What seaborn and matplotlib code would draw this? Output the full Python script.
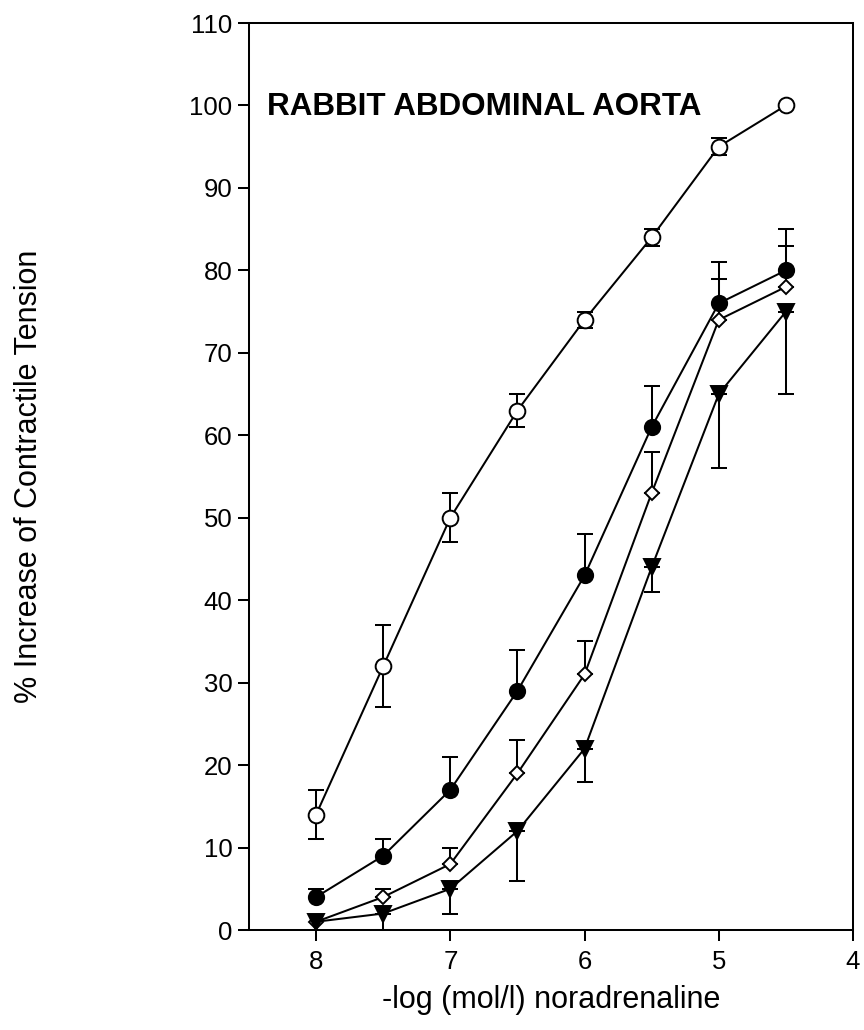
import matplotlib
matplotlib.use("Agg")
import matplotlib.pyplot as plt
import seaborn as sns
import numpy as np

# Concentrations (-log mol/l noradrenaline)
conc = [8.0, 7.5, 7.0, 6.5, 6.0, 5.5, 5.0, 4.5]

# Mean % increase of contractile tension for each group
open_circle = [14, 32, 50, 63, 74, 84, 95, 100]
open_circle_err = [3, 5, 3, 2, 1, 1, 1, 0]

filled_circle = [4, 9, 17, 29, 43, 61, 76, 80]
filled_circle_err = [1, 2, 4, 5, 5, 5, 5, 5]

open_diamond = [1, 4, 8, 19, 31, 53, 74, 78]
open_diamond_err = [0, 1, 2, 4, 4, 5, 5, 5]

filled_triangle = [1, 2, 5, 12, 22, 44, 65, 75]
filled_triangle_err = [0, 2, 3, 6, 4, 3, 9, 10]

x_ticks = [8, 7, 6, 5, 4]
y_ticks = list(range(0, 111, 10))

sns.set_theme(style="ticks")
plt.rcParams["font.family"] = ["Liberation Sans", "DejaVu Sans"]
plt.rcParams["text.color"] = "black"
plt.rcParams["axes.labelcolor"] = "black"
plt.rcParams["xtick.color"] = "black"
plt.rcParams["ytick.color"] = "black"

fig = plt.figure(figsize=(8.64, 10.30), dpi=100)
ax = fig.add_axes([249 / 864, 100 / 1030, 604 / 864, 907 / 1030])

lw = 1.45
cap = 12

# Error bars: both directions, upper only, or lower only
err_specs = [
    (open_circle, open_circle_err, "both"),
    (filled_circle, filled_circle_err, "up"),
    (open_diamond, open_diamond_err, "up"),
    (filled_triangle, filled_triangle_err, "down"),
]
for vals, errs, side in err_specs:
    v = np.array(vals, dtype=float)
    e = np.array(errs, dtype=float)
    lower = e if side in ("both", "down") else np.zeros_like(e)
    upper = e if side in ("both", "up") else np.zeros_like(e)
    mask = (lower + upper) > 0
    ax.errorbar(np.array(conc)[mask], v[mask],
                yerr=[lower[mask], upper[mask]],
                fmt="none", ecolor="black", elinewidth=lw,
                capsize=cap / 2, capthick=lw, zorder=2)

series = [
    (open_circle, "o", "white", 11.3),
    (filled_circle, "o", "black", 11.0),
    (open_diamond, "D", "white", 7.4),
    (filled_triangle, "v", "black", 11.8),
]
for vals, mk, face, ms in series:
    sns.lineplot(x=conc, y=vals, ax=ax, color="black", linewidth=lw,
                 marker=mk, markersize=ms, markerfacecolor=face,
                 markeredgecolor="black", markeredgewidth=1.4,
                 errorbar=None, zorder=3)

ax.set_xlim(8.5, 4)
ax.set_ylim(0, 110)
ax.set_xticks(x_ticks)
ax.set_yticks(y_ticks)
ax.tick_params(axis="both", direction="out", length=8, width=lw,
               labelsize=18.5, colors="black")
ax.tick_params(axis="x", pad=6.5)
ax.tick_params(axis="y", pad=4)

for sp in ax.spines.values():
    sp.set_visible(True)
    sp.set_linewidth(lw)
    sp.set_color("black")

ax.set_xlabel("-log (mol/l) noradrenaline", fontsize=22)
ax.set_ylabel("% Increase of Contractile Tension", fontsize=22)
ax.xaxis.set_label_coords(0.5, -0.061)
ax.yaxis.set_label_coords(-0.340, 0.5)

ax.text(0.0298, 0.8986, "RABBIT ABDOMINAL AORTA", transform=ax.transAxes,
        fontsize=22.6, fontweight="bold", ha="left", va="baseline")

fig.savefig("out.png", dpi=100)
